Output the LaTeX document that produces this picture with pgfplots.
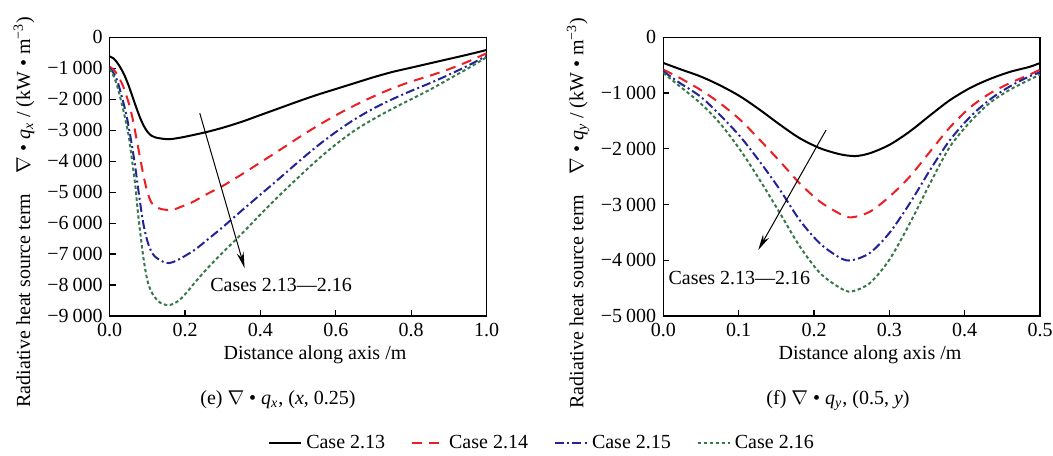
\documentclass[border=0pt]{standalone}
\usepackage{pgfplots}
\pgfplotsset{compat=1.18}
\usepackage{fontspec}
\setmainfont{Liberation Serif}
\usetikzlibrary{arrows.meta}
\definecolor{cred}{RGB}{235,30,35}
\definecolor{cblue}{RGB}{35,35,150}
\definecolor{cgreen}{RGB}{55,120,75}
\pgfplotsset{
  myaxis/.style={
    scale only axis, width=188.4pt, height=139.35pt,
    anchor=south west,
    tick align=inside, xtick pos=bottom, ytick pos=left,
    major tick length=3pt,
    axis line style={line width=0.7pt},
    every tick/.style={line width=0.6pt, black},
    tick label style={font=\fontsize{10}{12}\selectfont},
    clip=true,
  },
  s1/.style={black, line width=1pt, smooth},
  s2/.style={cred, line width=1pt, smooth, dash pattern=on 5pt off 3.5pt},
  s3/.style={cblue, line width=1pt, smooth, dash pattern=on 4.5pt off 1.6pt on 1pt off 1.6pt},
  s4/.style={cgreen, line width=1pt, smooth, dash pattern=on 1.7pt off 1.3pt},
}
\begin{document}
\begin{tikzpicture}
\useasboundingbox (0,0) rectangle (526.5pt,227.5pt);
% ---------------- left axis ----------------
\begin{axis}[myaxis, at={(54.85pt,69.5pt)},
  xmin=0, xmax=1, ymin=-9000, ymax=0,
  xtick={0,0.2,0.4,0.6,0.8,1.0},
  xticklabels={0.0,0.2,0.4,0.6,0.8,1.0},
  ytick={0,-1000,-2000,-3000,-4000,-5000,-6000,-7000,-8000,-9000},
  yticklabels={0,−1\hspace{0.2em}000,−2\hspace{0.2em}000,−3\hspace{0.2em}000,−4\hspace{0.2em}000,−5\hspace{0.2em}000,−6\hspace{0.2em}000,−7\hspace{0.2em}000,−8\hspace{0.2em}000,−9\hspace{0.2em}000},
  legend columns=4,
  legend style={at={(1.150,-0.4557)}, anchor=center, draw=none, fill=none,
    font=\fontsize{10}{12}\selectfont,
    /tikz/every even column/.append style={column sep=11pt},
    inner sep=0pt},
  legend cell align=left,
  legend image code/.code={\draw[#1] (0pt,0pt) -- (16pt,0pt);},
]
\addplot[s1] coordinates {
(0,-620) (0.01,-680) (0.02,-820) (0.03,-1010) (0.04,-1250) (0.05,-1550)
(0.06,-1900) (0.07,-2250) (0.08,-2580) (0.09,-2850) (0.1,-3050) (0.11,-3170)
(0.12,-3230) (0.14,-3275) (0.16,-3290) (0.19,-3235) (0.22,-3160) (0.26,-3050)
(0.3,-2920) (0.35,-2730) (0.4,-2510) (0.45,-2290) (0.5,-2070) (0.55,-1860)
(0.6,-1670) (0.65,-1480) (0.7,-1290) (0.75,-1120) (0.8,-980) (0.85,-840)
(0.9,-700) (0.95,-560) (1.0,-410)};
\addlegendentry{Case 2.13}
\addplot[s2] coordinates {
(0,-950) (0.01,-1040) (0.02,-1200) (0.035,-1560) (0.05,-2100) (0.06,-2580)
(0.07,-3200) (0.08,-3850) (0.09,-4480) (0.1,-5000) (0.11,-5320) (0.12,-5460)
(0.135,-5540) (0.15,-5570) (0.17,-5560) (0.19,-5470) (0.22,-5320) (0.26,-5050)
(0.3,-4800) (0.35,-4430) (0.4,-4040) (0.45,-3650) (0.5,-3250) (0.55,-2870)
(0.6,-2520) (0.65,-2200) (0.7,-1910) (0.75,-1650) (0.8,-1430) (0.85,-1240)
(0.9,-1030) (0.95,-790) (1.0,-516)};
\addlegendentry{Case 2.14}
\addplot[s3] coordinates {
(0,-1000) (0.01,-1150) (0.02,-1400) (0.032,-1910) (0.045,-2550) (0.058,-3420)
(0.068,-4200) (0.076,-4930) (0.089,-6000) (0.1,-6580) (0.11,-6900) (0.12,-7080)
(0.14,-7240) (0.155,-7290) (0.17,-7250) (0.19,-7130) (0.226,-6860) (0.26,-6530)
(0.3,-6130) (0.35,-5600) (0.4,-5080) (0.45,-4560) (0.5,-4030) (0.55,-3520)
(0.6,-3060) (0.65,-2650) (0.7,-2300) (0.75,-2000) (0.8,-1730) (0.85,-1480)
(0.9,-1210) (0.95,-920) (1.0,-600)};
\addlegendentry{Case 2.15}
\addplot[s4] coordinates {
(0,-1020) (0.012,-1300) (0.023,-1700) (0.04,-2560) (0.05,-3150) (0.058,-3850)
(0.068,-4800) (0.076,-5780) (0.089,-7080) (0.1,-7850) (0.11,-8200) (0.12,-8400)
(0.135,-8580) (0.155,-8650) (0.17,-8600) (0.186,-8475) (0.205,-8230) (0.226,-7920)
(0.26,-7450) (0.3,-6950) (0.35,-6350) (0.4,-5720) (0.45,-5110) (0.5,-4530)
(0.55,-3970) (0.6,-3460) (0.65,-3010) (0.7,-2640) (0.75,-2310) (0.8,-2000)
(0.85,-1690) (0.9,-1350) (0.95,-1010) (1.0,-645)};
\addlegendentry{Case 2.16}
\draw[-{Stealth[length=8pt,width=3.5pt]}, line width=0.5pt] (axis cs:0.239,-2452) -- (axis cs:0.358,-7452);
\node[font=\fontsize{10}{12}\selectfont] at (axis cs:0.455,-7990) {Cases 2.13—2.16};
\end{axis}
% ---------------- right axis ----------------
\begin{axis}[myaxis, at={(331.65pt,69.5pt)},
  xmin=0, xmax=0.5, ymin=-5000, ymax=0,
  xtick={0,0.1,0.2,0.3,0.4,0.5},
  xticklabels={0.0,0.1,0.2,0.3,0.4,0.5},
  ytick={0,-1000,-2000,-3000,-4000,-5000},
  yticklabels={0,−1\hspace{0.2em}000,−2\hspace{0.2em}000,−3\hspace{0.2em}000,−4\hspace{0.2em}000,−5\hspace{0.2em}000},
]
\addplot[s1] coordinates {
(0,-460) (0.022,-570) (0.049,-700) (0.075,-860) (0.102,-1060) (0.128,-1300)
(0.155,-1570) (0.181,-1810) (0.208,-1990) (0.235,-2100) (0.255,-2130) (0.274,-2080)
(0.3,-1930) (0.327,-1690) (0.354,-1400) (0.38,-1130) (0.407,-910) (0.433,-750)
(0.46,-620) (0.486,-530) (0.5,-460)};
\addplot[s2] coordinates {
(0,-580) (0.022,-730) (0.049,-940) (0.075,-1180) (0.102,-1480) (0.128,-1840)
(0.155,-2230) (0.181,-2620) (0.208,-2950) (0.235,-3170) (0.25,-3230) (0.274,-3130)
(0.3,-2860) (0.327,-2500) (0.354,-2050) (0.38,-1620) (0.407,-1260) (0.433,-1010)
(0.46,-820) (0.486,-670) (0.5,-580)};
\addplot[s3] coordinates {
(0,-610) (0.022,-820) (0.049,-1060) (0.075,-1390) (0.102,-1780) (0.128,-2230)
(0.155,-2740) (0.181,-3280) (0.208,-3700) (0.235,-3960) (0.25,-4000) (0.274,-3870)
(0.3,-3510) (0.327,-2980) (0.354,-2380) (0.38,-1850) (0.407,-1430) (0.433,-1120)
(0.46,-880) (0.486,-700) (0.5,-630)};
\addplot[s4] coordinates {
(0,-640) (0.022,-880) (0.049,-1180) (0.075,-1540) (0.102,-2020) (0.128,-2560)
(0.155,-3160) (0.181,-3750) (0.208,-4230) (0.235,-4500) (0.25,-4560) (0.274,-4410)
(0.3,-3990) (0.327,-3340) (0.354,-2620) (0.38,-1970) (0.407,-1520) (0.433,-1180)
(0.46,-940) (0.486,-760) (0.5,-670)};
\draw[-{Stealth[length=8pt,width=3.5pt]}, line width=0.5pt] (axis cs:0.216,-1663) -- (axis cs:0.126,-3816);
\node[font=\fontsize{10}{12}\selectfont] at (axis cs:0.101,-4324) {Cases 2.13—2.16};
\end{axis}
% ---------------- labels ----------------
\node[font=\fontsize{10}{12}\selectfont] at (157.5pt,50pt) {Distance along axis /m};
\node[font=\fontsize{10}{12}\selectfont] at (435pt,50pt) {Distance along axis /m};
\node[font=\fontsize{10}{12}\selectfont] at (139pt,27.5pt) {(e) $\nabla$ • \textit{q}\textsubscript{\textit{x}}, (\textit{x}, 0.25)};
\node[font=\fontsize{10}{12}\selectfont] at (419pt,27.5pt) {(f) $\nabla$ • \textit{q}\textsubscript{\textit{y}}, (0.5, \textit{y})};
\node[font=\fontsize{10}{12}\selectfont, rotate=90] at (12pt,121.5pt) {Radiative heat source term\quad$\nabla$ • \textit{q}\textsubscript{\textit{x}} / (kW • m\textsuperscript{−3})};
\node[font=\fontsize{10}{12}\selectfont, rotate=90] at (289pt,121pt) {Radiative heat source term\quad$\nabla$ • \textit{q}\textsubscript{\textit{y}} / (kW • m\textsuperscript{−3})};
\end{tikzpicture}
\end{document}
